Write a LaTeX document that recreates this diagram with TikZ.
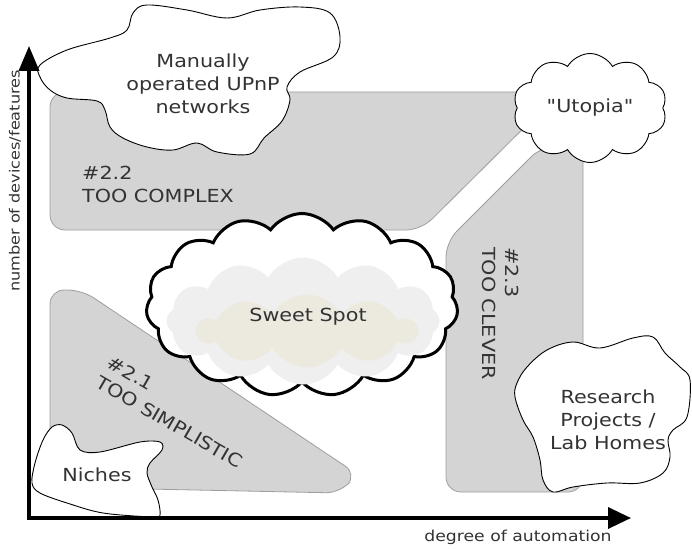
\documentclass[tikz,border=0pt]{standalone}
\usepackage{fontspec}
\setmainfont[FakeStretch=1.15]{DejaVu Sans}
\newfontfamily\plainquote[FakeStretch=1.15]{DejaVu Sans}
\usetikzlibrary{arrows.meta,shapes.symbols}
\definecolor{regfill}{HTML}{D4D4D4}
\definecolor{regdraw}{HTML}{9E9E9E}
\definecolor{txt}{HTML}{333333}
\definecolor{puffgray}{HTML}{EFEFEF}
\definecolor{puffbeige}{HTML}{ECE9DF}
\tikzset{
  region/.style={fill=regfill, draw=regdraw, line width=0.8pt, rounded corners=15pt},
  blob/.style={fill=white, draw=black, line width=0.9pt},
  lbl/.style={text=txt, font=\fontsize{18}{23}\selectfont, align=center, inner sep=0pt},
  axlbl/.style={text=txt, inner sep=0pt},
  axis/.style={line width=3.5pt, black},
}
\begin{document}
\begin{tikzpicture}[x=1pt,y=-1pt]
\useasboundingbox (0,0) rectangle (692,548);
% regions
\draw[region] (50,92) -- (560,92) -- (421,230) -- (50,230) -- cycle;
\draw[region] (446,492) -- (446,242) -- (542,146) -- (583,146) -- (583,492) -- cycle;
\draw[region, rounded corners=14pt] (50,290) -- (82,290) -- (357,474) -- (340,493) -- (50,487) -- cycle;
% region labels
\node[lbl, align=left, anchor=north west] (r22) at (82,166) {\#2.2\\TOO COMPLEX};
\node[lbl, align=left, anchor=north west, rotate=-90] (r23) at (519,247) {\#2.3\\TOO CLEVER};
\node[lbl, align=left, rotate=-30] (r21) at (175,412) {\#2.1\\TOO SIMPLISTIC};
% manually cloud
\draw[blob] plot[smooth cycle, tension=0.6] coordinates {
 (40,65) (67,50) (110,38) (127,30) (133,13) (147,5) (187,10) (227,18) (260,10)
 (300,7) (330,13) (340,37) (333,57) (300,72) (287,87) (290,100) (282,121)
 (264,138) (250,154) (217,152) (197,143) (173,150) (147,147) (123,138)
 (110,127) (105,110) (97,101) (67,98) (50,90) (40,77)};
\node[lbl] (manual) at (203,84) {Manually\\operated UPnP\\networks};
% utopia cloud
\node[blob, cloud, cloud puffs=10, cloud puff arc=120, cloud ignores aspect,
      minimum width=154pt, minimum height=109pt, inner sep=0pt,
      text=txt, font=\plainquote\fontsize{18}{23}\selectfont] (utopia) at (590,108) {"Utopia"};
% sweet spot cloud
\node[draw=black, fill=white, line width=3pt, cloud, cloud puffs=15, cloud puff arc=110,
      cloud ignores aspect, minimum width=312pt, minimum height=183pt] (sweet) at (302,305) {};
\node[fill=puffgray, cloud, cloud puffs=12, cloud puff arc=120, cloud ignores aspect,
      minimum width=273pt, minimum height=127pt] (sweetin) at (303,321) {};
\node[fill=puffbeige, cloud, cloud puffs=10, cloud puff arc=120, cloud ignores aspect,
      minimum width=219pt, minimum height=73pt] (sweetcore) at (307,331) {};
\node[lbl] (sweetlbl) at (308,317) {Sweet Spot};
% research cloud
\draw[blob] plot[smooth cycle, tension=0.6] coordinates {
 (517,383) (527,367) (547,350) (573,342) (600,348) (633,338) (653,337) (665,353)
 (680,367) (690,380) (687,417) (673,430) (668,440) (670,457) (663,473) (640,483)
 (607,483) (573,487) (553,492) (543,480) (540,460) (533,437) (523,420) (515,397)};
\node[lbl] (research) at (608,420) {Research\\Projects /\\Lab Homes};
% niches
\draw[blob] plot[smooth cycle, tension=0.55] coordinates {
 (52,427) (62,425) (72,433) (80,450) (100,452) (140,442) (160,442) (162,450)
 (150,463) (147,473) (152,487) (158,500) (160,515) (153,517) (103,513) (67,503)
 (40,493) (32,483) (35,463) (43,440)};
\node[lbl] (niches) at (97,475) {Niches};
% axes
\coordinate (orig) at (29,518);
\coordinate (ytip) at (29,46);
\coordinate (xtip) at (631,518);
\draw[axis, -{Triangle[length=25pt,width=20pt]}] ([yshift=1.75pt]orig) -- (ytip);
\draw[axis, -{Triangle[length=23pt,width=21pt]}] ([xshift=-1.75pt]orig) -- (xtip);
\node[axlbl, rotate=90, font=\fontsize{14}{17}\selectfont] (ylbl) at (15,181) {number of devices/features};
\node[axlbl, font=\fontsize{15}{18}\selectfont] (xlbl) at (518,537) {degree of automation};
\end{tikzpicture}
\end{document}
